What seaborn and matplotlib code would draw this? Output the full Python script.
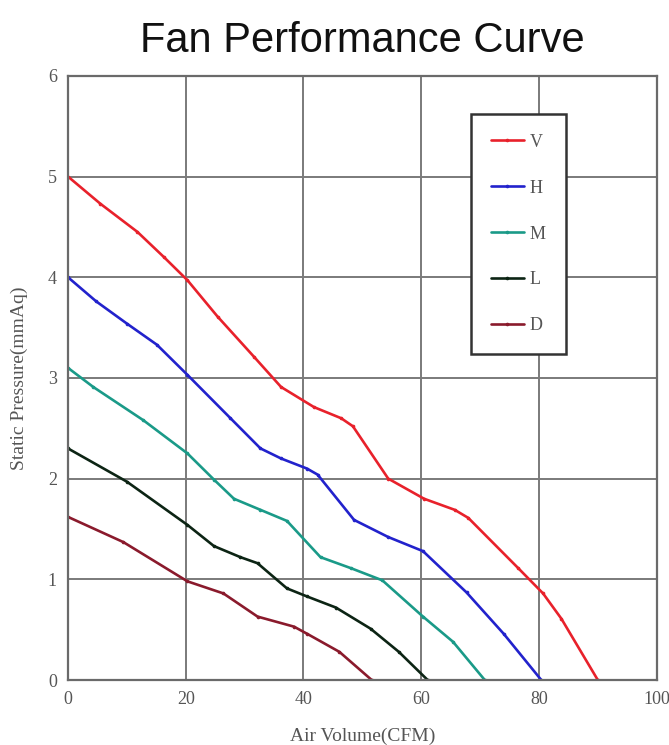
import numpy as np
import pandas as pd
import matplotlib
matplotlib.use("Agg")
import matplotlib.pyplot as plt
import seaborn as sns

# curve readings: air volume (CFM) vs static pressure (mmAq)
v_x = [0, 5.5, 11.8, 16.3, 20.3, 25.4, 31.6, 36.2, 41.8, 46.4, 48.4, 54.4, 60.5, 65.7, 68.0, 76.5, 80.7, 83.8, 90]
v_y = [5.0, 4.73, 4.45, 4.20, 3.97, 3.61, 3.21, 2.91, 2.71, 2.60, 2.52, 2.0, 1.80, 1.69, 1.61, 1.11, 0.86, 0.61, 0]
h_x = [0, 4.8, 10.0, 15.1, 20.3, 27.6, 32.7, 36.2, 40.6, 42.4, 48.6, 54.4, 60.3, 67.7, 74.0, 80.4]
h_y = [4.0, 3.76, 3.54, 3.33, 3.03, 2.60, 2.30, 2.20, 2.10, 2.04, 1.59, 1.42, 1.28, 0.87, 0.46, 0]
m_x = [0, 4.3, 12.8, 20.3, 24.8, 28.2, 32.7, 37.2, 42.9, 48.1, 53.4, 60.3, 65.4, 70.8]
m_y = [3.10, 2.91, 2.58, 2.25, 1.99, 1.80, 1.69, 1.58, 1.22, 1.11, 0.99, 0.63, 0.38, 0]
l_x = [0, 10.0, 20.3, 24.8, 29.3, 32.2, 37.2, 40.6, 45.5, 51.4, 56.2, 61.1]
l_y = [2.30, 1.97, 1.54, 1.33, 1.22, 1.16, 0.91, 0.83, 0.72, 0.51, 0.28, 0]
d_x = [0, 9.4, 20.3, 26.4, 32.2, 38.4, 40.6, 46.1, 51.6]
d_y = [1.62, 1.37, 0.98, 0.86, 0.63, 0.53, 0.46, 0.28, 0]

speeds = ["V", "H", "M", "L", "D"]
colors = ["#e8212b", "#2222cc", "#1a9a88", "#0c2414", "#8a1a2c"]

frames = []
for name, xs, ys in zip(speeds, [v_x, h_x, m_x, l_x, d_x], [v_y, h_y, m_y, l_y, d_y]):
    frames.append(pd.DataFrame({"cfm": xs, "pressure": ys, "speed": name}))
df = pd.concat(frames, ignore_index=True)

sns.set_style("white")
fig = plt.figure(figsize=(6.69, 7.45), dpi=100)
ax = fig.add_axes([0.1016, 0.0872, 0.880, 0.811])

sns.lineplot(data=df, x="cfm", y="pressure", hue="speed", hue_order=speeds,
             palette=colors, sort=False, estimator=None, ax=ax,
             linewidth=1.9, marker="o", markersize=2.6, markeredgewidth=0)

ax.set_xlim(0, 100)
ax.set_ylim(0, 6)
ax.set_xticks(np.arange(0, 101, 20))
ax.set_yticks(np.arange(0, 7, 1))
ax.grid(True, color="#7a7a7a", linewidth=1.4)
ax.set_axisbelow(True)
for s in ax.spines.values():
    s.set_color("#6a6a6a")
    s.set_linewidth(1.6)
ax.tick_params(direction="out", length=4, width=1.2, color="#6a6a6a",
               labelsize=13, labelcolor="#555555", pad=4)
for lbl in ax.get_xticklabels() + ax.get_yticklabels():
    lbl.set_family("Liberation Serif")

ax.set_xlabel("Air Volume(CFM)", family="Liberation Serif", fontsize=14,
              color="#555555", labelpad=14)
ax.set_ylabel("Static Pressure(mmAq)", family="Liberation Serif", fontsize=14,
              color="#555555", labelpad=14)

handles, labels = ax.get_legend_handles_labels()
leg = ax.legend(handles, labels, loc="upper left", bbox_to_anchor=(0.685, 0.937),
                frameon=True, fancybox=False, prop={"family": "Liberation Serif", "size": 13},
                handlelength=1.8, handletextpad=0.35, labelspacing=1.6,
                borderpad=1.1, borderaxespad=0)
leg.get_frame().set_edgecolor("#333333")
leg.get_frame().set_linewidth(1.8)
leg.get_frame().set_alpha(1)
for t in leg.get_texts():
    t.set_color("#555555")

fig.suptitle("Fan Performance Curve", family="Liberation Sans", fontsize=30,
             color="#111111", x=0.541, y=0.972)

fig.savefig("out.png", dpi=100)
